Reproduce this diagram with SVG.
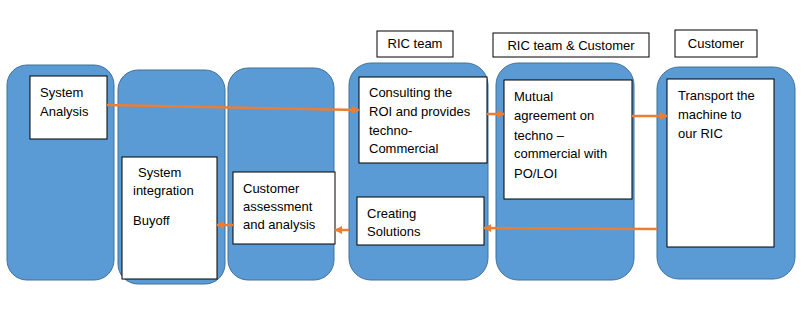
<svg xmlns="http://www.w3.org/2000/svg" width="804" height="324" viewBox="0 0 804 324">
<defs>
<style>
.col{fill:#5B9BD5;stroke:#41719C;stroke-width:1}
.box{fill:#FFFFFF;stroke:#000000;stroke-width:1}
.t{font-family:"Liberation Sans",Arial,sans-serif;font-size:13px;fill:#000000}
.c{stroke:#ED7D31;stroke-width:2.5;fill:none;marker-end:url(#ah)}
</style>
<marker id="ah" viewBox="0 0 10 10" refX="9" refY="5" markerWidth="3.2" markerHeight="3.2" orient="auto" markerUnits="strokeWidth">
<path d="M0,0 L10,5 L0,10 z" fill="#ED7D31"/>
</marker>
</defs>
<rect width="804" height="324" fill="#FFFFFF"/>

<g id="col1"><rect class="col" x="7" y="65" width="107" height="215" rx="20"/></g>
<g id="col2"><rect class="col" x="118" y="70" width="107" height="214" rx="20"/></g>
<g id="col3"><rect class="col" x="228" y="68" width="106" height="212" rx="20"/></g>
<g id="col4"><rect class="col" x="349" y="63" width="139" height="217" rx="22"/></g>
<g id="col5"><rect class="col" x="496" y="63" width="138" height="217" rx="22"/></g>
<g id="col6"><rect class="col" x="657" y="67" width="138" height="212" rx="22"/></g>

<g id="hdr-ric"><rect class="box" x="377" y="31" width="76" height="26"/><text class="t" x="415" y="48" text-anchor="middle">RIC team</text></g>
<g id="hdr-ric-cust"><rect class="box" x="493" y="33" width="156" height="24"/><text class="t" x="571" y="50" text-anchor="middle">RIC team &amp; Customer</text></g>
<g id="hdr-cust"><rect class="box" x="675" y="30" width="82" height="27"/><text class="t" x="716" y="48" text-anchor="middle">Customer</text></g>

<g id="system-analysis"><rect class="box" x="30" y="76" width="77" height="63"/>
<text class="t" x="40" y="97">System</text><text class="t" x="40" y="116">Analysis</text></g>

<g id="system-integration"><rect class="box" x="122" y="157" width="95" height="122"/>
<text class="t" x="138" y="177">System</text><text class="t" x="133" y="195">integration</text><text class="t" x="133" y="225">Buyoff</text></g>

<g id="customer-assessment"><rect class="box" x="233" y="172" width="102" height="72"/>
<text class="t" x="243" y="193">Customer</text><text class="t" x="243" y="211">assessment</text><text class="t" x="243" y="229">and analysis</text></g>

<g id="consulting"><rect class="box" x="359" y="77" width="128" height="86"/>
<text class="t" x="369" y="97">Consulting the</text><text class="t" x="369" y="116">ROI and provides</text><text class="t" x="369" y="135">techno-</text><text class="t" x="369" y="153">Commercial</text></g>

<g id="creating-solutions"><rect class="box" x="357" y="197" width="127" height="48"/>
<text class="t" x="367" y="218">Creating</text><text class="t" x="367" y="236">Solutions</text></g>

<g id="mutual-agreement"><rect class="box" x="504" y="80" width="128" height="119"/>
<text class="t" x="514" y="101">Mutual</text><text class="t" x="514" y="120">agreement on</text><text class="t" x="514" y="140">techno –</text><text class="t" x="514" y="158">commercial with</text><text class="t" x="514" y="178">PO/LOI</text></g>

<g id="transport"><rect class="box" x="667" y="79" width="107" height="168"/>
<text class="t" x="678" y="100">Transport the</text><text class="t" x="678" y="119">machine to</text><text class="t" x="678" y="138">our RIC</text></g>

<g id="connectors">
<line class="c" x1="107" y1="105" x2="359" y2="110"/>
<line class="c" x1="487" y1="114" x2="504" y2="114"/>
<line class="c" x1="632" y1="116" x2="667" y2="116"/>
<line class="c" x1="657" y1="229" x2="484" y2="228"/>
<line class="c" x1="349" y1="230" x2="335" y2="230"/>
<line class="c" x1="233" y1="225" x2="217" y2="225"/>
</g>
</svg>
